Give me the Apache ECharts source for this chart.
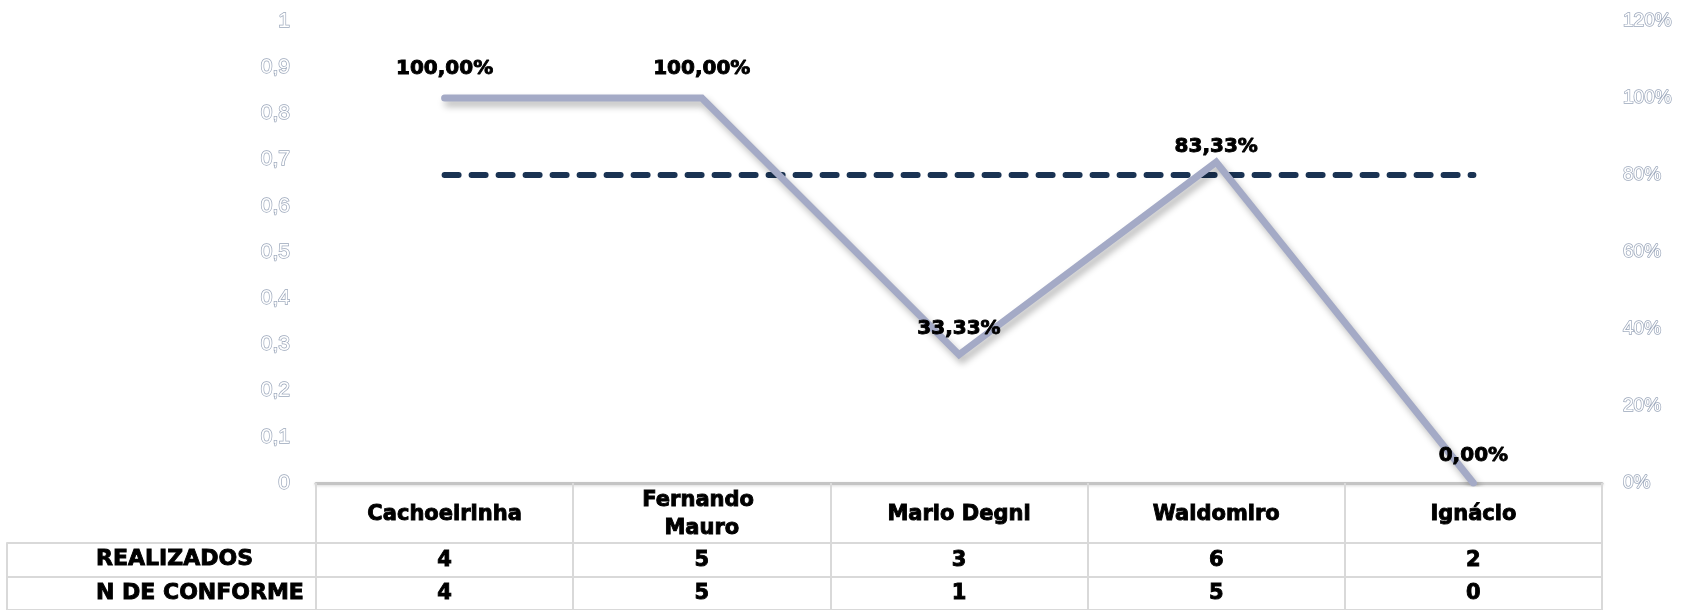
<!DOCTYPE html>
<html>
<head>
<meta charset="utf-8">
<script src="https://cdn.jsdelivr.net/npm/echarts@6/dist/echarts.min.js"></script>
<style>
html,body{margin:0;padding:0;background:#fff;}
#c{width:1690px;height:610px;}
</style>
</head>
<body>
<div id="c"></div>
<script>
// ---- data ----
var categories = ['Cachoeirinha', 'Fernando Mauro', 'Mario Degni', 'Waldomiro', 'Ignácio'];
var pctConforme = [100, 100, 33.33, 83.33, 0];
var meta = [80, 80, 80, 80, 80];
var rowNames = ['REALIZADOS', 'N DE CONFORME'];
var realizados = [4, 5, 3, 6, 2];
var nConforme = [4, 5, 1, 5, 0];
var leftTicks = [0, 1, 0.1];      // min, max, interval
var rightTicks = [0, 120, 20];    // min, max, interval

// ---- presentation ----
var labelTweak = [
  {distance: 19, offset: [5, 0]},
  {distance: 19, offset: [0, 0]},
  {distance: 15, offset: [2, 0]},
  {distance: 5, offset: [6, 0]},
  {distance: 17, offset: [0, 0]}
];
var heavy = 'DejaVu Sans';
var boldText = {fontFamily: heavy, fontWeight: 'bold', color: '#000', textBorderColor: '#000', textBorderWidth: 0.9};
var hollow = {
  fontFamily: 'Liberation Sans, Arial, sans-serif',
  color: '#ffffff',
  textBorderColor: '#9aa6ba',
  textBorderWidth: 1.4
};
var tableLine = '#d9d9d9';

function ext(a, b) { return Object.assign({}, a, b); }

var chart = echarts.init(document.getElementById('c'), null, {renderer: 'canvas'});

var option = {
  animation: false,
  backgroundColor: '#ffffff',
  grid: [
    {left: 316, right: 88, top: 21, bottom: 127},
    {left: 7, right: 88, top: 543, height: 72}
  ],
  xAxis: [
    {
      type: 'category', gridIndex: 0, data: categories, position: 'bottom',
      boundaryGap: true,
      axisLine: {show: true, lineStyle: {color: '#c4c4c4', width: 3, shadowColor: 'rgba(0,0,0,0.15)', shadowBlur: 3, shadowOffsetY: 1}},
      axisTick: {show: true, length: 130, lineStyle: {color: tableLine, width: 2}},
      axisLabel: ext(boldText, {
        margin: 32, verticalAlign: 'middle', align: 'center', fontSize: 21,
        width: 170, overflow: 'break', lineHeight: 28, interval: 0
      }),
      splitLine: {show: false}
    },
    {
      type: 'category', gridIndex: 0, data: realizados.map(String), position: 'bottom', offset: 60,
      axisLine: {show: false}, axisTick: {show: false},
      axisLabel: ext(boldText, {margin: 18, verticalAlign: 'middle', fontSize: 21, interval: 0})
    },
    {
      type: 'category', gridIndex: 0, data: nConforme.map(String), position: 'bottom', offset: 96,
      axisLine: {show: false}, axisTick: {show: false},
      axisLabel: ext(boldText, {margin: 15, verticalAlign: 'middle', fontSize: 21, interval: 0})
    },
    {type: 'value', gridIndex: 1, show: false}
  ],
  yAxis: [
    {
      type: 'value', gridIndex: 0, position: 'left',
      min: leftTicks[0], max: leftTicks[1], interval: leftTicks[2],
      axisLine: {show: false}, axisTick: {show: false}, splitLine: {show: false},
      axisLabel: ext(hollow, {fontSize: 21, margin: 26, formatter: function (v) { return String(+v.toFixed(1)).replace('.', ','); }})
    },
    {
      type: 'value', gridIndex: 0, position: 'right',
      min: rightTicks[0], max: rightTicks[1], interval: rightTicks[2],
      axisLine: {show: false}, axisTick: {show: false}, splitLine: {show: false},
      axisLabel: ext(hollow, {fontSize: 19, margin: 21, formatter: function (v) { return v + '%'; }})
    },
    {
      type: 'category', gridIndex: 1, data: rowNames, inverse: true,
      axisLine: {show: true, lineStyle: {color: tableLine, width: 2}},
      axisTick: {show: false},
      splitLine: {show: true, lineStyle: {color: tableLine, width: 2}},
      axisLabel: ext(boldText, {inside: true, margin: 89, align: 'left', verticalAlign: 'middle', fontSize: 22})
    }
  ],
  series: [
    {
      name: 'Meta', type: 'line', xAxisIndex: 0, yAxisIndex: 1,
      data: meta, showSymbol: false, symbol: 'none', silent: true,
      lineStyle: {color: '#1a3353', width: 6, type: [14, 13], cap: 'round'},
      z: 2
    },
    {
      name: '% Conforme', type: 'line', xAxisIndex: 0, yAxisIndex: 1,
      data: pctConforme.map(function (v, i) {
        return {value: v, label: labelTweak[i]};
      }),
      showSymbol: true, symbol: 'circle', symbolSize: 1, silent: true,
      itemStyle: {color: 'rgba(0,0,0,0)', borderWidth: 0},
      lineStyle: {color: '#a4aac6', width: 7, cap: 'round', join: 'miter',
        shadowColor: 'rgba(0,0,0,0.28)', shadowBlur: 7, shadowOffsetX: 3, shadowOffsetY: 5},
      label: ext(boldText, {
        show: true, position: 'top', fontSize: 20,
        formatter: function (p) { return p.value.toFixed(2).replace('.', ',') + '%'; }
      }),
      labelLayout: {hideOverlap: false},
      z: 3
    }
  ]
};
chart.setOption(option);
</script>
</body>
</html>
